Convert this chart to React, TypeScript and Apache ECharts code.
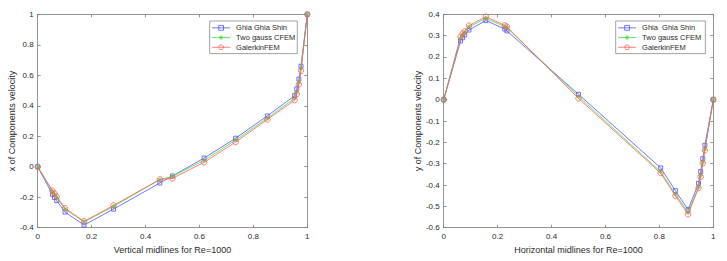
import React, { useEffect, useRef } from "react";
import * as echarts from "echarts";

// Vertical midline (left plot)
const xV = [0, 0.0547, 0.0625, 0.0703, 0.1016, 0.1719, 0.2813, 0.4531, 0.5, 0.6172, 0.7344, 0.8516, 0.9531, 0.9609, 0.9688, 0.9766, 1];
const uGhia = [0, -0.18109, -0.20196, -0.2222, -0.2973, -0.38289, -0.27805, -0.10648, -0.0608, 0.05702, 0.18719, 0.33304, 0.46604, 0.51117, 0.57492, 0.65928, 1];
const uCFEM = [0, -0.162, -0.181, -0.201, -0.278, -0.362, -0.26, -0.085, -0.063, 0.042, 0.175, 0.318, 0.449, 0.49, 0.554, 0.646, 1];
const uGal = [0, -0.157, -0.176, -0.196, -0.273, -0.358, -0.254, -0.083, -0.076, 0.029, 0.162, 0.31, 0.437, 0.477, 0.54, 0.63, 1];

// Horizontal midline (right plot)
const xH = [0, 0.0625, 0.0703, 0.0781, 0.0938, 0.1563, 0.2266, 0.2344, 0.5, 0.8047, 0.8594, 0.9063, 0.9453, 0.9531, 0.9609, 0.9688, 1];
const vGhia = [0, 0.27485, 0.29012, 0.30353, 0.32627, 0.37095, 0.33075, 0.32235, 0.02526, -0.31966, -0.42665, -0.5155, -0.39188, -0.33714, -0.27669, -0.21388, 0];
const vCFEM = [0, 0.288, 0.303, 0.314, 0.341, 0.381, 0.342, 0.337, 0.015, -0.338, -0.443, -0.528, -0.41, -0.355, -0.293, -0.232, 0];
const vGal = [0, 0.295, 0.31, 0.32, 0.347, 0.389, 0.348, 0.342, 0.006, -0.344, -0.451, -0.537, -0.414, -0.361, -0.298, -0.237, 0];

const leftNames = ["Ghia Ghia Shin", "Two gauss CFEM", "GalerkinFEM"];
const rightNames = ["Ghia  Ghia Shin", "Two gauss CFEM ", "GalerkinFEM "];
const leftLabels = { x: "Vertical midlines for Re=1000", y: "x of Components velocity" };
const rightLabels = { x: "Horizontal midlines for Re=1000", y: "y of Components velocity" };

const BLUE = "#5252ff";
const GREEN = "#47dc47";
const RED = "#ff5a5a";
const AX = "#7a7a7a";
const TXT = "#2a2a2a";
const FONT = "'Liberation Sans', Arial, sans-serif";
const STAR = "path://M5 0L5 10M0 5L10 5M1.5 1.5L8.5 8.5M1.5 8.5L8.5 1.5";
const SYMBOLS = ["rect", STAR, "circle"];
const COLORS = [BLUE, GREEN, RED];
const SIZES = [4, 4.5, 5.5];

const fmt = (v: number) => {
  const r = Math.round(v * 10) / 10;
  return r === 0 ? "0" : String(r);
};

export default function App() {
  const ref = useRef<HTMLDivElement>(null);
  useEffect(() => {
    if (!ref.current) return;
    const chart = echarts.init(ref.current, null, { renderer: "svg" });
    const gridW = 269.6;
    const gridH = 213.4;
    const grids = [
      { left: 37.7, top: 14.3, width: gridW, height: gridH },
      { left: 443.7, top: 14.3, width: gridW, height: gridH },
    ];
    const tick = { show: true, inside: true, length: 3, lineStyle: { color: AX, width: 0.8 } };
    const line = { show: true, onZero: false, lineStyle: { color: AX, width: 0.8 } };
    const lbl = { color: TXT, fontSize: 8, fontFamily: FONT, formatter: fmt };
    const mkX = (gi: number, name: string, pos: string, main: boolean) => ({
      type: "value",
      gridIndex: gi,
      position: pos,
      min: 0,
      max: 1,
      interval: 0.2,
      name: main ? name : "",
      nameLocation: "middle",
      nameGap: 15,
      nameTextStyle: { color: TXT, fontSize: 9, fontFamily: FONT },
      axisLine: line,
      axisTick: tick,
      axisLabel: main ? { ...lbl, margin: 5 } : { show: false },
      splitLine: { show: false },
    });
    const mkY = (gi: number, name: string, pos: string, main: boolean, min: number, max: number, interval: number) => ({
      type: "value",
      gridIndex: gi,
      position: pos,
      min,
      max,
      interval,
      name: main ? name : "",
      nameLocation: "middle",
      nameGap: 21,
      nameTextStyle: { color: TXT, fontSize: 9, fontFamily: FONT },
      axisLine: line,
      axisTick: tick,
      axisLabel: main ? { ...lbl, margin: 4 } : { show: false },
      splitLine: { show: false },
    });
    const mkSeries = (name: string, xs: number[], ys: number[], ai: number, k: number) => ({
      type: "line",
      name,
      xAxisIndex: ai,
      yAxisIndex: ai,
      data: xs.map((x, i) => [x, ys[i]]),
      symbol: SYMBOLS[k],
      symbolSize: SIZES[k],
      showAllSymbol: true,
      z: 2 + k,
      lineStyle: { color: COLORS[k], width: 0.8 },
      itemStyle: {
        color: k === 1 ? COLORS[k] : "rgba(0,0,0,0)",
        borderColor: COLORS[k],
        borderWidth: 0.8,
      },
      emphasis: { disabled: true },
    });
    const legendData = (names: string[]) =>
      names.map((n, k) => ({
        name: n,
        itemStyle: {
          color: k === 1 ? COLORS[k] : "rgba(0,0,0,0)",
          borderColor: COLORS[k],
          borderWidth: 0.8,
        },
        lineStyle: { color: COLORS[k], width: 0.8 },
      }));
    const legendBase = {
      orient: "vertical",
      top: 21,
      width: 92,
      padding: [2.5, 2, 2, 2],
      itemWidth: 18,
      itemHeight: 6,
      itemGap: 1,
      backgroundColor: "#ffffff",
      borderColor: "#8a8a8a",
      borderWidth: 0.8,
      borderRadius: 0,
      itemStyle: { borderWidth: 0.8 },
      lineStyle: { width: 0.8 },
      textStyle: { color: TXT, fontSize: 7.5, lineHeight: 8.7, fontFamily: FONT, padding: [0, 0, 0, 1] },
      selectedMode: false,
    };
    chart.setOption({
      animation: false,
      backgroundColor: "#ffffff",
      grid: grids,
      xAxis: [
        mkX(0, leftLabels.x, "bottom", true),
        mkX(0, "", "top", false),
        mkX(1, rightLabels.x, "bottom", true),
        mkX(1, "", "top", false),
      ],
      yAxis: [
        mkY(0, leftLabels.y, "left", true, -0.4, 1, 0.2),
        mkY(0, "", "right", false, -0.4, 1, 0.2),
        mkY(1, rightLabels.y, "left", true, -0.6, 0.4, 0.1),
        mkY(1, "", "right", false, -0.6, 0.4, 0.1),
      ],
      legend: [
        { ...legendBase, left: 209.7, data: legendData(leftNames) },
        { ...legendBase, left: 615.7, width: 91, data: legendData(rightNames) },
      ],
      series: [
        mkSeries(leftNames[0], xV, uGhia, 0, 0),
        mkSeries(leftNames[1], xV, uCFEM, 0, 1),
        mkSeries(leftNames[2], xV, uGal, 0, 2),
        mkSeries(rightNames[0], xH, vGhia, 2, 0),
        mkSeries(rightNames[1], xH, vCFEM, 2, 1),
        mkSeries(rightNames[2], xH, vGal, 2, 2),
      ],
    });
    return () => chart.dispose();
  }, []);
  return (
    <div
      ref={ref}
      style={{ position: "fixed", left: 0, top: 0, width: 727, height: 261 }}
    />
  );
}
